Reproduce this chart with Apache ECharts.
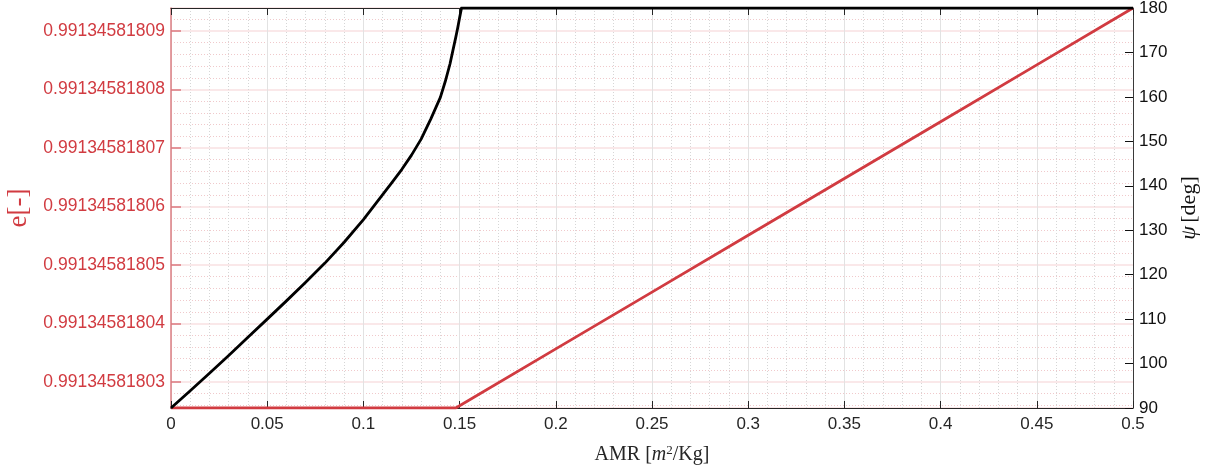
<!DOCTYPE html>
<html>
<head>
<meta charset="utf-8">
<script src="https://cdn.jsdelivr.net/npm/echarts@6/dist/echarts.min.js"></script>
<style>
  html, body { margin: 0; padding: 0; background: #ffffff; }
  #chart { width: 1207px; height: 470px; }
</style>
</head>
<body>
<div id="chart"></div>
<script>
// ---- data ----
// Eccentricity e [-] versus AMR (red, left axis)
const amrE = [0, 0.148, 0.2, 0.25, 0.3, 0.35, 0.4, 0.45, 0.5];
const eValues = [0.99134581802556, 0.99134581802556, 0.99134581803566, 0.99134581804537,
                 0.99134581805508, 0.99134581806479, 0.99134581807450, 0.99134581808421,
                 0.99134581809393];
// psi [deg] versus AMR (black, right axis)
const amrPsi = [0, 0.01, 0.02, 0.03, 0.04, 0.05, 0.06, 0.07, 0.08, 0.09, 0.10, 0.105, 0.11, 0.115,
                0.12, 0.125, 0.13, 0.135, 0.14, 0.1425, 0.145, 0.1465, 0.148, 0.149, 0.15, 0.151,
                0.2, 0.25, 0.3, 0.35, 0.4, 0.45, 0.5];
const psiValues = [90, 93.9, 97.8, 101.8, 105.9, 110.0, 114.1, 118.3, 122.6, 127.3, 132.4, 135.2, 138.0, 140.8,
                   143.7, 146.9, 150.5, 155.0, 159.9, 163.4, 167.4, 170.4, 173.4, 175.5, 177.8, 180,
                   180, 180, 180, 180, 180, 180, 180];
// tick settings
const xTickStep = 0.05;
const psiTicks = { min: 90, max: 180, step: 10 };
const eLabelPrefix = '0.9913458180';   // labels are prefix + integer offset (units of 1e-11)
const eBase = 0.991345818;
const eScale = 1e11;

// ---- build ----
const RED = '#d13b41';
const AXIS = '#262626';
const SANS = 'Liberation Sans, Arial, Helvetica, sans-serif';
const SERIF = 'Liberation Serif, Times New Roman, serif';

const eOffsets = eValues.map(v => (v - eBase) * eScale);
const redData = amrE.map((x, i) => [x, eOffsets[i]]);
const blackData = amrPsi.map((x, i) => [x, psiValues[i]]);

const chart = echarts.init(document.getElementById('chart'), null, { renderer: 'canvas' });

const option = {
  animation: false,
  backgroundColor: '#ffffff',
  grid: { left: 171, right: 74, top: 8, bottom: 62, containLabel: false, outerBoundsMode: 'none' },
  xAxis: [
    {
      type: 'value', position: 'bottom', min: 0, max: 0.5, interval: xTickStep,
      axisLine: { show: true, onZero: false, lineStyle: { color: AXIS, width: 1 } },
      axisTick: { show: true, inside: true, length: 7, lineStyle: { color: AXIS, width: 1 } },
      axisLabel: { color: AXIS, fontSize: 17, fontFamily: SANS, margin: 8 },
      splitLine: { show: true, lineStyle: { color: '#e2e2e2', width: 1 } },
      minorTick: { show: false, splitNumber: 5 },
      minorSplitLine: { show: true, lineStyle: { color: '#d6d6d6', width: 1, type: [1, 2] } },
      name: '{t|AMR [}{i|m}{s|2}{t|/Kg]}',
      nameLocation: 'middle', nameGap: 36,
      nameTextStyle: {
        rich: {
          t: { fontFamily: SERIF, fontSize: 20, color: AXIS },
          i: { fontFamily: SERIF, fontSize: 20, fontStyle: 'italic', color: AXIS },
          s: { fontFamily: SERIF, fontSize: 13, color: AXIS, verticalAlign: 'top', padding: [0, 0, 8, 0] }
        }
      }
    },
    {
      type: 'value', position: 'top', min: 0, max: 0.5, interval: xTickStep,
      axisLine: { show: true, onZero: false, lineStyle: { color: AXIS, width: 1 } },
      axisTick: { show: true, inside: true, length: 7, lineStyle: { color: AXIS, width: 1 } },
      axisLabel: { show: false },
      splitLine: { show: false }
    }
  ],
  yAxis: [
    {
      type: 'value', position: 'left', min: 'dataMin', max: 'dataMax', splitNumber: 5,
      axisLine: { show: true, onZero: false, lineStyle: { color: '#dc7e83', width: 1.5 } },
      axisTick: { show: true, inside: true, length: 10, lineStyle: { color: '#dc7a80', width: 1.5 } },
      axisLabel: {
        color: RED, fontSize: 17.5, fontFamily: SANS, margin: 6,
        showMinLabel: false, showMaxLabel: false,
        formatter: v => Math.abs(v - Math.round(v)) < 1e-6 ? eLabelPrefix + Math.round(v) : ''
      },
      splitLine: { show: true, lineStyle: { color: '#f8e1e2', width: 1.5 } },
      minorTick: { show: false, splitNumber: 5 },
      minorSplitLine: { show: true, lineStyle: { color: '#f0c9cb', width: 1, type: [1, 2] } },
      name: 'e[-]', nameLocation: 'middle', nameRotate: 90, nameGap: 134,
      nameTextStyle: { color: RED, fontFamily: SERIF, fontSize: 27 }
    },
    {
      type: 'value', position: 'right', min: psiTicks.min, max: psiTicks.max, interval: psiTicks.step,
      axisLine: { show: true, onZero: false, lineStyle: { color: '#3a3a3a', width: 1 } },
      axisTick: { show: true, inside: true, length: 8, lineStyle: { color: '#111', width: 1 } },
      axisLabel: { color: '#111', fontSize: 17, fontFamily: SANS, margin: 6 },
      splitLine: { show: false },
      name: '{i|ψ} {t|[deg]}', nameLocation: 'middle', nameRotate: 90, nameGap: 44,
      nameTextStyle: {
        rich: {
          i: { fontFamily: SERIF, fontSize: 22, fontStyle: 'italic', color: '#111' },
          t: { fontFamily: SERIF, fontSize: 22, color: '#111' }
        }
      }
    }
  ],
  series: [
    {
      name: 'e', type: 'line', xAxisIndex: 0, yAxisIndex: 0, data: redData,
      showSymbol: false, symbol: 'none',
      lineStyle: { color: RED, width: 2.8 }, z: 3
    },
    {
      name: 'psi', type: 'line', xAxisIndex: 0, yAxisIndex: 1, data: blackData,
      showSymbol: false, symbol: 'none',
      lineStyle: { color: '#000000', width: 2.8, join: 'round' }, z: 4
    }
  ]
};
chart.setOption(option);
</script>
</body>
</html>
